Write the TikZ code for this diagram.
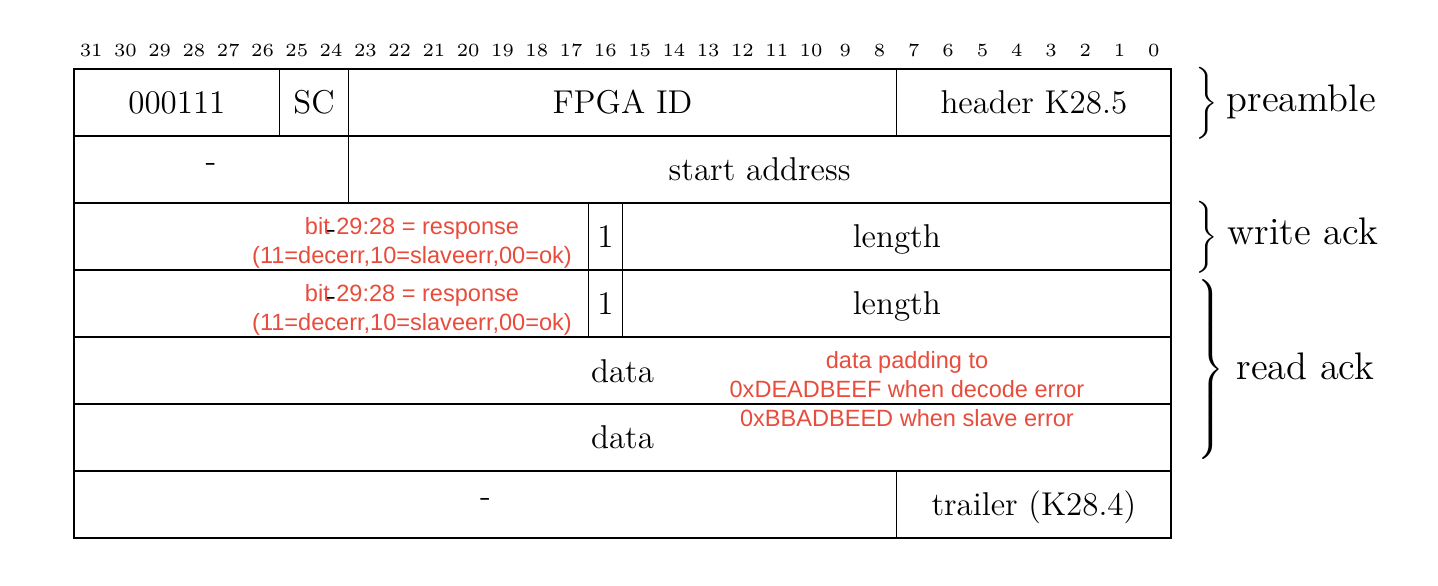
\documentclass[tikz,border=0pt]{standalone}
\usepackage{fontspec}
\newfontfamily\redfont{Liberation Sans}
\newfontfamily\bitfont{lmroman6-regular}[Extension=.otf]
\definecolor{annred}{RGB}{231,76,60}
\tikzset{
  cell/.style={draw, line width=0.4pt, inner sep=0pt, outer sep=0pt,
    minimum height=22.333pt, text height=15pt, text depth=7.333pt,
    anchor=north west, font=\fontsize{11}{13}\selectfont},
  hy/.style={inner sep=0pt, anchor=base, font=\fontsize{11}{13}\selectfont},
  bitlab/.style={inner sep=0pt, anchor=base, font=\bitfont\fontsize{6.2}{7}\selectfont},
  redtxt/.style={inner sep=0pt, anchor=base, text=annred, font=\redfont\fontsize{7.85}{9.5}\selectfont},
  grplab/.style={inner sep=0pt, anchor=base west, font=\fontsize{12.8}{15}\selectfont},
  bracenode/.style={inner sep=0pt, anchor=west, font=\fontsize{12.8}{15}\selectfont}
}
\begin{document}
\begin{tikzpicture}[x=0.33333pt,y=-0.33333pt]
\useasboundingbox (0,0) rectangle (1438,586);
% bit numbers
\foreach \b in {0,...,31}{
  \node[bitlab] (bit\b) at ({74+(31.5-\b)*34.28125},57) {\b};
}
% row 1
\node[cell, minimum width=68.5625pt] (c11) at (74,69) {000111};
\node[cell, minimum width=22.854pt] (c12) at (279.6875,69) {SC};
\node[cell, minimum width=182.833pt] (c13) at (348.25,69) {FPGA ID};
\node[cell, minimum width=91.4167pt] (c14) at (896.75,69) {header K28.5};
% row 2
\node[cell, minimum width=91.4167pt] (c21) at (74,136) {};
\node[cell, minimum width=274.25pt] (c22) at (348.25,136) {start address};
% row 3
\node[cell, minimum width=171.406pt] (c31) at (74,203) {};
\node[cell, minimum width=11.427pt] (c32) at (588.21875,203) {1};
\node[cell, minimum width=182.833pt] (c33) at (622.5,203) {length};
% row 4
\node[cell, minimum width=171.406pt] (c41) at (74,270) {};
\node[cell, minimum width=11.427pt] (c42) at (588.21875,270) {1};
\node[cell, minimum width=182.833pt] (c43) at (622.5,270) {length};
% rows 5,6
\node[cell, minimum width=365.667pt] (c51) at (74,337) {data};
\node[cell, minimum width=365.667pt] (c61) at (74,404) {data};
% row 7
\node[cell, minimum width=274.25pt] (c71) at (74,471) {};
\node[cell, minimum width=91.4167pt] (c72) at (896.75,471) {trailer (K28.4)};
% hyphens
\node[hy] (h2) at (211.1,172) {-};
\node[hy] (h3) at (331.1,239) {-};
\node[hy] (h4) at (331.1,306) {-};
\node[hy] (h7) at (485.4,507) {-};
% red annotations
\node[redtxt] (r3a) at (412,235) {bit 29:28 = response};
\node[redtxt] (r3b) at (412,264) {(11=decerr,10=slaveerr,00=ok)};
\node[redtxt] (r4a) at (412,302) {bit 29:28 = response};
\node[redtxt] (r4b) at (412,331) {(11=decerr,10=slaveerr,00=ok)};
\node[redtxt] (d1) at (907,368.5) {data padding to};
\node[redtxt] (d2) at (907,397.7) {0xDEADBEEF when decode error};
\node[redtxt] (d3) at (907,427) {0xBBADBEED when slave error};
% braces and group labels
\node[bracenode] (bp) at (1191,103) {$\left.\vcenter{\hbox{\vrule height 22.5pt width 0pt}}\right\}$};
\node[bracenode] (bw) at (1191,237) {$\left.\vcenter{\hbox{\vrule height 22.5pt width 0pt}}\right\}$};
\node[bracenode] (br) at (1193,370) {$\left.\vcenter{\hbox{\vrule height 62pt width 0pt}}\right\}$};
\node[grplab] (lp) at (1226,112) {preamble};
\node[grplab] (lw) at (1227,245) {write ack};
\node[grplab] (lr) at (1236,380) {read ack};
\end{tikzpicture}
\end{document}
